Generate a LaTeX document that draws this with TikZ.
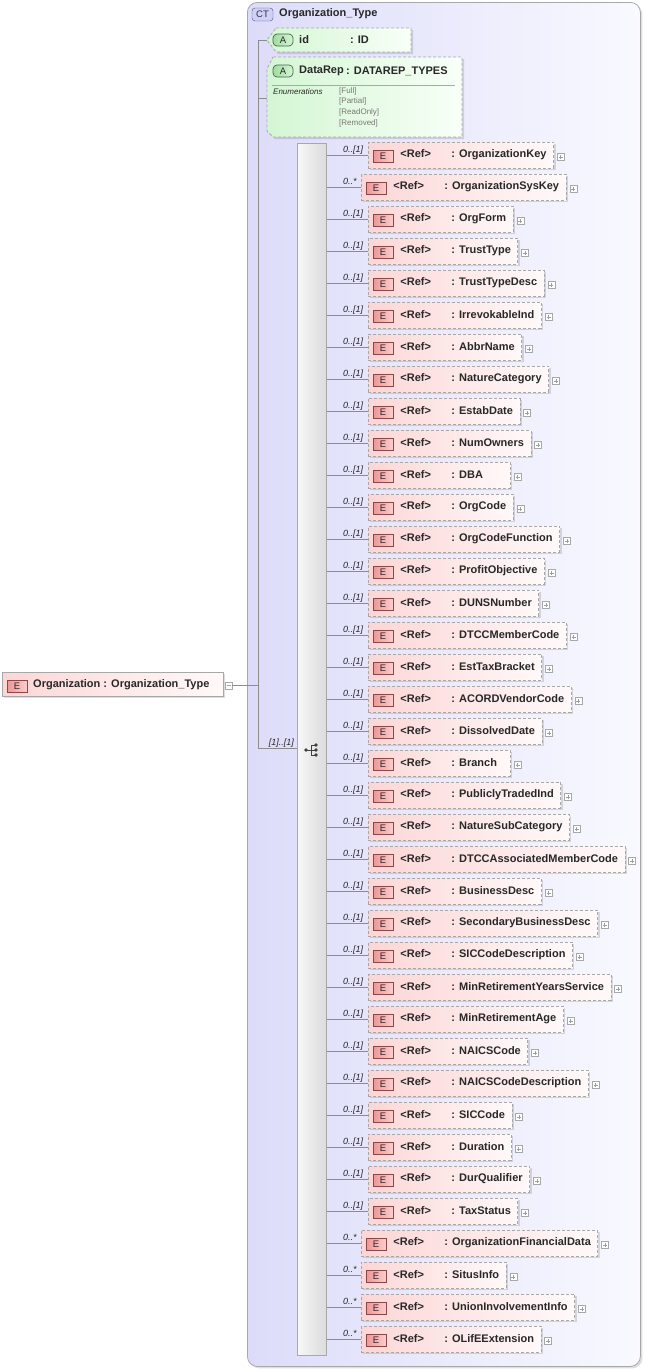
\documentclass[tikz,border=0pt]{standalone}
\usepackage{fontspec}
\setmainfont{Liberation Sans}
\usetikzlibrary{shadows}
\definecolor{lnc}{RGB}{140,140,140}
\definecolor{txt}{RGB}{40,40,40}
\definecolor{pinkL}{RGB}{252,214,214}
\definecolor{pinkR}{RGB}{255,249,249}
\definecolor{ebL}{RGB}{238,150,150}
\definecolor{ebR}{RGB}{252,205,205}
\definecolor{ebD}{RGB}{140,70,70}
\definecolor{grL}{RGB}{212,246,212}
\definecolor{grR}{RGB}{248,255,248}
\definecolor{abL}{RGB}{160,220,160}
\definecolor{abR}{RGB}{215,245,215}
\definecolor{abD}{RGB}{70,105,70}
\definecolor{ctL}{RGB}{220,220,250}
\definecolor{ctR}{RGB}{249,249,255}
\definecolor{ctbF}{RGB}{208,208,245}
\definecolor{ctbD}{RGB}{80,80,140}
\definecolor{bdr}{RGB}{168,168,168}
\definecolor{enm}{RGB}{120,120,120}
\newcommand\fnm{\fontsize{11}{13}\selectfont\bfseries}
\newcommand\fmul{\fontsize{9}{10}\selectfont\itshape}
\newcommand\fbadge{\fontsize{9.5}{10}\selectfont}
\newcommand\fenum{\fontsize{8}{9}\selectfont}
\newlength\eltw
\newcommand\eltxt[1]{\settowidth\eltw{: #1}\addtolength\eltw{90pt}\ifdim\eltw<142pt\eltw=142pt\fi\makebox[\eltw][l]{\hspace*{32pt}\makebox[51pt][l]{<Ref>}: #1}}
\tikzset{
 ln/.style={draw=lnc, line width=0.8pt},
 shd/.style={drop shadow={shadow xshift=2pt, shadow yshift=-2pt, fill=black, opacity=0.13}},
 elbox/.style={draw=bdr, dash pattern=on 3pt off 2pt, line width=0.8pt, left color=pinkL, right color=pinkR, minimum height=26pt, inner sep=0pt, anchor=west, font=\fnm, text=txt, shd},
 ebadge/.style={draw=ebD, line width=0.7pt, left color=ebL, right color=ebR, minimum width=20pt, minimum height=12pt, inner sep=0pt, font=\fbadge, text=txt},
 abadge/.style={draw=abD, line width=0.7pt, left color=abL, right color=abR, minimum width=20pt, minimum height=12pt, inner sep=0pt, rounded corners=4pt, font=\fbadge, text=txt},
 pbox/.style={draw=bdr, fill=white, minimum size=7pt, inner sep=0pt, line width=0.6pt},
 mul/.style={font=\fmul, text=txt, inner sep=0pt, anchor=base west},
 tx/.style={font=\fnm, text=txt, inner sep=0pt, anchor=west},
 attr/.style={draw=bdr, dash pattern=on 3pt off 2pt, line width=0.8pt, left color=grL, right color=grR},
 sgn/.style={draw=gray!75, line width=0.6pt},
}
\begin{document}
\begin{tikzpicture}[x=1pt,y=-1pt]
\useasboundingbox (0,0) rectangle (645,1369);
% container
\node[draw=bdr, line width=0.8pt, rounded corners=10pt, left color=ctL, right color=ctR, minimum width=393pt, minimum height=1364pt, inner sep=0pt, anchor=north west, shd] (ct) at (247,2) {};
\node[draw=ctbD, fill=ctbF, rounded corners=3pt, minimum width=21pt, minimum height=13pt, inner sep=0pt, font=\fbadge, text=ctbD!60!black] (ctb) at (262.5,14.5) {CT};
\node[tx] (ctn) at (279,14) {Organization\_Type};
% attribute id
\fill[black, opacity=0.12] (278,30) -- (413,30) -- (413,54) -- (278,54) -- (269,42) -- cycle;
\path[attr] (276,28) -- (411,28) -- (411,52) -- (276,52) -- (267,40) -- cycle;
\coordinate (idtip) at (267,40);
\node[abadge] (ida) at (283,40) {A};
\node[tx] (idn) at (299,40) {id};
\node[tx] (idt) at (350,40) {: ID};
% attribute DataRep
\fill[black, opacity=0.12] (275,59) -- (464,59) -- (464,139) -- (275,139) -- (269,133) -- (269,71) -- cycle;
\path[attr] (273,57) -- (462,57) -- (462,137) -- (273,137) -- (267,131) -- (267,69) -- cycle;
\coordinate (drtip) at (267,98);
\node[abadge] (dra) at (283,71) {A};
\node[tx] (drn) at (299,71) {DataRep};
\node[tx] (drt) at (346,71) {: DATAREP\_TYPES};
\draw[draw=bdr, line width=0.7pt] (272,85) -- (455,85);
\node[font=\fenum\itshape, text=txt, inner sep=0pt, anchor=base west] (enl) at (273,94) {Enumerations};
\node[font=\fenum, text=enm, inner sep=0pt, anchor=base west] (en1) at (339,93) {[Full]};
\node[font=\fenum, text=enm, inner sep=0pt, anchor=base west] (en2) at (339,103.5) {[Partial]};
\node[font=\fenum, text=enm, inner sep=0pt, anchor=base west] (en3) at (339,114.5) {[ReadOnly]};
\node[font=\fenum, text=enm, inner sep=0pt, anchor=base west] (en4) at (339,125.5) {[Removed]};
% left element
\node[draw=bdr, line width=0.8pt, left color=pinkL, right color=pinkR, minimum width=221pt, minimum height=24pt, inner sep=0pt, anchor=north west, shd] (org) at (2,672) {};
\node[ebadge] (orge) at (17,686) {E};
\node[tx] (orgt) at (33,685) {Organization : Organization\_Type};
\node[pbox, anchor=west] (orgm) at ([xshift=1pt,yshift=-1pt]org.east) {};
\draw[sgn] ([xshift=-2pt]orgm.center) -- ([xshift=2pt]orgm.center);
% sequence
\node[draw=bdr, line width=0.8pt, left color=gray!6, right color=gray!28, minimum width=29pt, minimum height=1212pt, inner sep=0pt, anchor=north west] (seq) at (297,143) {};
\fill[black!75] (306,750) circle (1.8);
\draw[black!75, line width=0.8pt] (306,750) -- (311,750) (311,745) -- (311,755) (311,745) -- (316,745) (311,750) -- (316,750) (311,755) -- (316,755);
\fill[black!75] (316,745) circle (1.8) (316,750) circle (1.8) (316,755) circle (1.8);
\node[mul, anchor=base east] (seqm) at (294,745) {[1]..[1]};
% trunk
\coordinate (vt) at (258,40);
\coordinate (vb) at (258,748);
\draw[ln] (vt) -- (vb);
\draw[ln] (orgm.east) -- (orgm.east -| vt);
\draw[ln] (vt) -- (idtip);
\draw[ln] (vt |- drtip) -- (drtip);
\draw[ln] (vb) -- (seq.west |- vb);
% children
\foreach \nm/\mu [count=\i from 0] in {OrganizationKey/1, OrganizationSysKey/0, OrgForm/1, TrustType/1, TrustTypeDesc/1, IrrevokableInd/1, AbbrName/1, NatureCategory/1, EstabDate/1, NumOwners/1, DBA/1, OrgCode/1, OrgCodeFunction/1, ProfitObjective/1, DUNSNumber/1, DTCCMemberCode/1, EstTaxBracket/1, ACORDVendorCode/1, DissolvedDate/1, Branch/1, PubliclyTradedInd/1, NatureSubCategory/1, DTCCAssociatedMemberCode/1, BusinessDesc/1, SecondaryBusinessDesc/1, SICCodeDescription/1, MinRetirementYearsService/1, MinRetirementAge/1, NAICSCode/1, NAICSCodeDescription/1, SICCode/1, Duration/1, DurQualifier/1, TaxStatus/1, OrganizationFinancialData/0, SitusInfo/0, UnionInvolvementInfo/0, OLifEExtension/0}{
  \pgfmathsetmacro\yy{155+32*\i}
  \ifnum\mu=1 \def\xl{368}\def\ml{0..[1]}\else\def\xl{361}\def\ml{0..*}\fi
  \node[elbox] (e\i) at (\xl,\yy) {\eltxt{\nm}};
  \node[ebadge] (b\i) at (\xl+15,\yy+1) {E};
  \node[pbox, anchor=west] (p\i) at ([xshift=3pt,yshift=-2pt]e\i.east) {};
  \draw[sgn] ([xshift=-2pt]p\i.center) -- ([xshift=2pt]p\i.center) ([yshift=-2pt]p\i.center) -- ([yshift=2pt]p\i.center);
  \draw[ln] (seq.east |- e\i.west) -- (e\i.west);
  \node[mul] (m\i) at (343,\yy-3) {\ml};
}
\end{tikzpicture}
\end{document}
